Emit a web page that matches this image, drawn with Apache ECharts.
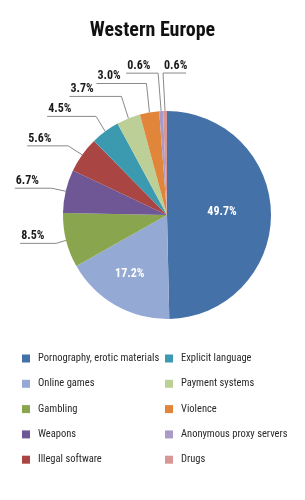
<!DOCTYPE html>
<html>
<head>
<meta charset="utf-8">
<script src="https://cdn.jsdelivr.net/npm/echarts@6/dist/echarts.min.js"></script>
<style>
html,body{margin:0;padding:0;background:#fff;}
#c{width:305px;height:500px;}
</style>
</head>
<body>
<div id="c"></div>
<script>
var categories = ['Pornography, erotic materials', 'Online games', 'Gambling', 'Weapons', 'Illegal software',
  'Explicit language', 'Payment systems', 'Violence', 'Anonymous proxy servers', 'Drugs'];
var values = [49.7, 17.2, 8.5, 6.7, 5.6, 4.5, 3.7, 3.0, 0.6, 0.6];
var colors = ['#4371a8', '#94a9d3', '#89a54d', '#6f5796', '#a94542', '#3c9ab0', '#bbcf97', '#e0853a', '#a99ac6', '#d69795'];
var titleText = 'Western Europe';

var FONT = '"Roboto Condensed", "Open Sans Condensed", "DejaVu Sans Condensed", sans-serif';
// leader line layout per slice: [elbow dx, elbow dy from pie edge, horizontal length, side]
var leader = {
  2: [-10, 3, 36, -1],
  3: [-14, -3, 37, -1],
  4: [-14, -9, 41, -1],
  5: [-9, -15, 49, -1],
  6: [-7, -22, 52, -1],
  7: [-3, -29, 50, -1],
  8: [-3, -38, 32, -1],
  9: [-2, -38, 23, 1]
};
var insideShift = {0: [0, -2], 1: [-10, 11]};

var chart = echarts.init(document.getElementById('c'), null, {renderer: 'canvas'});

var data = categories.map(function (n, i) {
  var inside = i < 2;
  return {
    name: n,
    value: values[i],
    itemStyle: {color: colors[i]},
    label: inside ? {position: 'inside', color: '#ffffff'} : {position: 'outside', color: '#1a1a1a'},
    labelLine: {show: !inside}
  };
});

var legendText = {fontFamily: FONT, fontSize: 10.5, color: '#2a2a2a', padding: [0, 0, 0, 3]};

function legendCfg(items, left) {
  return {
    data: items,
    orient: 'vertical',
    left: left,
    top: 348,
    icon: 'rect',
    itemWidth: 8,
    itemHeight: 8,
    itemGap: 14.3,
    selectedMode: false,
    textStyle: legendText
  };
}

chart.setOption({
  animation: false,
  backgroundColor: '#ffffff',
  title: {
    text: titleText,
    left: 'center',
    top: 16,
    textStyle: {fontFamily: FONT, fontSize: 20, fontWeight: 'bold', color: '#111'}
  },
  legend: [legendCfg(categories.slice(0, 5), 17), legendCfg(categories.slice(5), 160)],
  series: [{
    type: 'pie',
    center: [167, 215],
    radius: 104,
    startAngle: 90,
    clockwise: true,
    avoidLabelOverlap: false,
    data: data,
    label: {
      fontFamily: FONT,
      fontSize: 12,
      fontWeight: 'bold',
      formatter: function (p) { return p.value.toFixed(1) + '%'; }
    },
    labelLine: {
      length: 10,
      length2: 10,
      lineStyle: {color: '#8a8a8a', width: 1}
    },
    labelLayout: function (p) {
      var i = p.dataIndex;
      if (insideShift[i]) {
        return {dx: insideShift[i][0], dy: insideShift[i][1]};
      }
      var cfg = leader[i];
      if (!cfg || !p.labelLinePoints) return {};
      var e = p.labelLinePoints[0];
      var ex = e[0] + cfg[0], ey = e[1] + cfg[1];
      var endX, textX;
      if (cfg[3] < 0) {
        endX = ex - cfg[2];
        textX = endX + 1;
      } else {
        endX = ex + cfg[2];
        textX = ex + 1;
      }
      return {
        x: textX,
        y: ey - 1,
        align: 'left',
        verticalAlign: 'bottom',
        labelLinePoints: [[e[0], e[1]], [ex, ey], [endX, ey]]
      };
    },
    emphasis: {disabled: true}
  }]
});
</script>
</body>
</html>
